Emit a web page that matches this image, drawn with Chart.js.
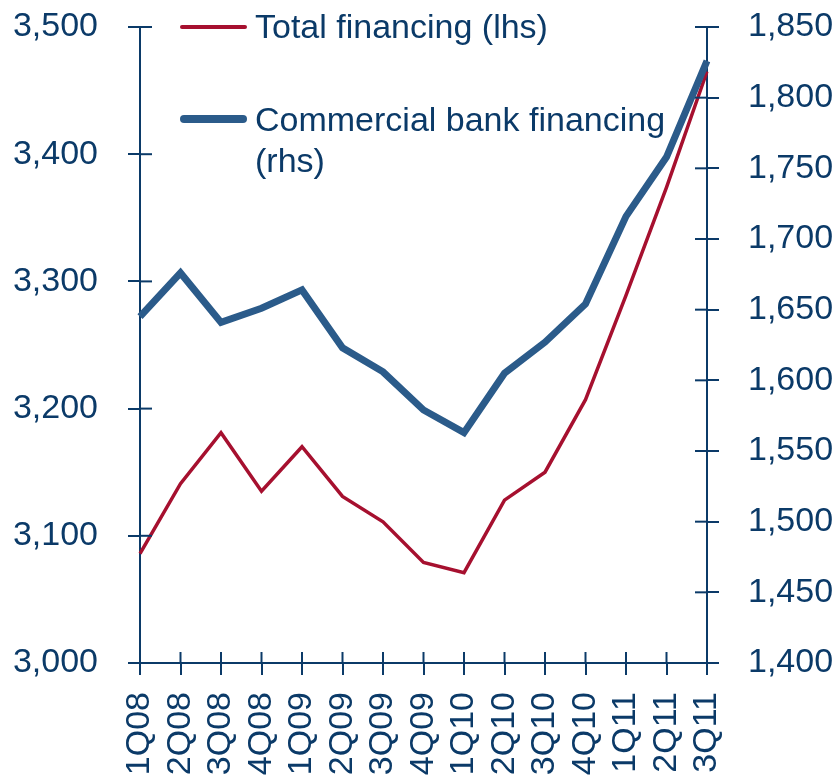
<!DOCTYPE html>
<html>
<head>
<meta charset="utf-8">
<script src="https://cdn.jsdelivr.net/npm/chart.js@4/dist/chart.umd.min.js"></script>
<style>
  body { margin: 0; background: #fff; }
  #wrap { position: relative; width: 840px; height: 778px; }
  #legend { position: absolute; left: 0; top: 0; font-family: "Liberation Sans", Arial, sans-serif; font-size: 34px; line-height: 41px; color: #0B3A68; }
  .swatch { position: absolute; left: 180px; width: 67px; border-radius: 4px; }
  .ltext { position: absolute; left: 255px; white-space: nowrap; }
</style>
</head>
<body>
<div id="wrap">
  <canvas id="chart" width="840" height="778"></canvas>
  <div id="legend">
    <div class="swatch" id="sw0" style="top:25px;height:4px;"></div>
    <div class="ltext" id="lt0" style="top:6px;"></div>
    <div class="swatch" id="sw1" style="top:115px;height:8px;"></div>
    <div class="ltext" id="lt1" style="top:99px;"></div>
  </div>
</div>
<script>
/* 데이터 */
const quarters = ['1Q08', '2Q08', '3Q08', '4Q08', '1Q09', '2Q09', '3Q09', '4Q09', '1Q10', '2Q10', '3Q10', '4Q10', '1Q11', '2Q11', '3Q11'];
const totalFinancing = [3086, 3141, 3181, 3135, 3170, 3131, 3111, 3079, 3071, 3128, 3150, 3207, 3289, 3374, 3465];
const bankFinancing = [1645, 1676, 1641, 1651, 1664, 1623, 1606, 1579, 1563, 1605, 1627, 1654, 1716, 1758, 1826];
const seriesNames = ['Total financing (lhs)', 'Commercial bank financing\n(rhs)'];

const navy = '#0B3A68';
const red = '#A6102F';
const blue = '#2B5B8A';
const fontFamily = '"Liberation Sans", Arial, sans-serif';

/* 축 눈금 (축을 가로지르는 짧은 선) */
const crossTicks = {
    id: 'crossTicks',
    afterDraw(chart) {
        const c = chart.ctx;
        const area = chart.chartArea;
        c.save();
        c.strokeStyle = navy;
        c.lineWidth = 2;
        Object.values(chart.scales).forEach(scale => {
            scale.ticks.forEach((t, i) => {
                const p = scale.getPixelForTick(i);
                c.beginPath();
                if (scale.axis === 'x') {
                    c.moveTo(p, area.bottom - 11);
                    c.lineTo(p, area.bottom);
                } else if (scale.position === 'left') {
                    c.moveTo(area.left, p);
                    c.lineTo(area.left + 12, p);
                } else {
                    c.moveTo(area.right - 12, p);
                    c.lineTo(area.right, p);
                }
                c.stroke();
            });
        });
        c.restore();
    }
};

const axisCommon = {
    grid: { display: true, drawOnChartArea: false, drawTicks: true, tickLength: 12, color: navy, lineWidth: 2 },
    border: { display: true, color: navy, width: 2 }
};

// 축 영역 크기 고정
function fixSize(size) {
    return function(scale) {
        if (scale.isHorizontal()) {
            scale.height = size;
        } else {
            scale.width = size;
        }
        scale.paddingTop = 0;
        scale.paddingBottom = 0;
        scale.paddingLeft = 0;
        scale.paddingRight = 0;
    };
}

const ctx = document.getElementById('chart').getContext('2d');
const chart = new Chart(ctx, {
    type: 'line',
    data: {
        labels: quarters,
        datasets: [{
            label: seriesNames[0],
            data: totalFinancing,
            yAxisID: 'y',
            borderColor: red,
            borderWidth: 3.5,
            pointRadius: 0,
            tension: 0,
            order: 1
        }, {
            label: seriesNames[1],
            data: bankFinancing,
            yAxisID: 'y1',
            borderColor: blue,
            borderWidth: 7,
            pointRadius: 0,
            tension: 0,
            order: 0
        }]
    },
    options: {
        responsive: false,
        animation: false,
        layout: { padding: { left: 0, right: 6, top: 27, bottom: 0 } },
        plugins: {
            legend: { display: false },
            tooltip: { enabled: false }
        },
        scales: {
            x: {
                ...axisCommon,
                offset: false,
                afterFit: fixSize(115),
                ticks: {
                    color: navy,
                    font: { family: fontFamily, size: 34 },
                    maxRotation: 90,
                    minRotation: 90,
                    autoSkip: false,
                    padding: 17
                }
            },
            y: {
                ...axisCommon,
                position: 'left',
                min: 3000,
                max: 3500,
                afterFit: fixSize(140),
                ticks: {
                    stepSize: 100,
                    color: navy,
                    font: { family: fontFamily, size: 34 },
                    padding: 30,
                    callback: v => v.toLocaleString('en-US')
                }
            },
            y1: {
                ...axisCommon,
                position: 'right',
                min: 1400,
                max: 1850,
                afterFit: fixSize(127),
                ticks: {
                    stepSize: 50,
                    color: navy,
                    font: { family: fontFamily, size: 34 },
                    padding: 29,
                    callback: v => v.toLocaleString('en-US')
                }
            }
        }
    },
    plugins: [crossTicks]
});

/* 범례 */
chart.data.datasets.forEach((ds, i) => {
    document.getElementById('sw' + i).style.background = ds.borderColor;
    document.getElementById('lt' + i).innerHTML = ds.label.replace('\n', '<br>');
});
</script>
</body>
</html>
